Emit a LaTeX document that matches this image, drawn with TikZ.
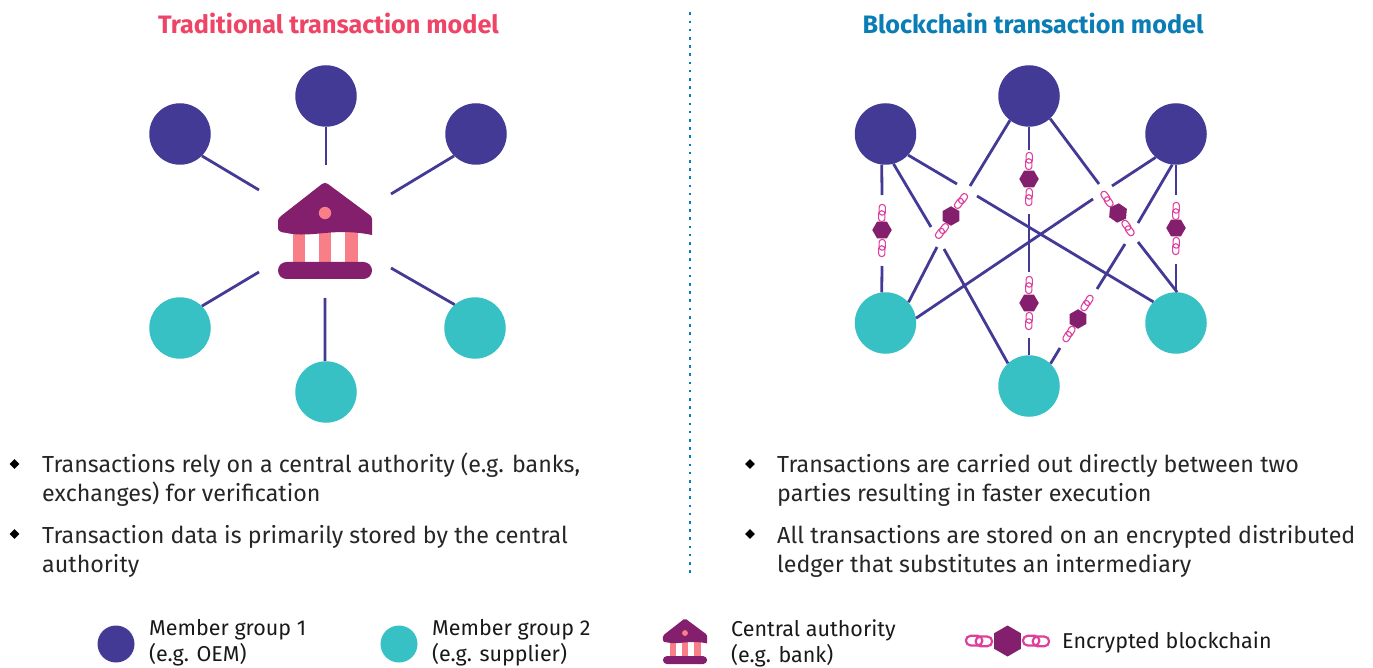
\documentclass[tikz,border=0pt]{standalone}
\usepackage{fontspec}
\setmainfont{Fira Sans}
\usetikzlibrary{shapes.geometric}
\definecolor{memberA}{HTML}{433A96}
\definecolor{memberB}{HTML}{38C1C5}
\definecolor{plum}{HTML}{841F6E}
\definecolor{salmon}{HTML}{F87F87}
\definecolor{chainpink}{HTML}{DE3F9C}
\definecolor{titlered}{HTML}{EE4466}
\definecolor{titleblue}{HTML}{0A7DB5}
\tikzset{
  x=1pt,y=-1pt,
  groupA/.style={circle,fill=memberA,inner sep=0,minimum size=61.5pt},
  groupB/.style={circle,fill=memberB,inner sep=0,minimum size=61.5pt},
  keyA/.style={circle,fill=memberA,inner sep=0,minimum size=37pt},
  keyB/.style={circle,fill=memberB,inner sep=0,minimum size=37pt},
  conn/.style={draw=memberA,line width=2.8pt},
  hexa/.style={regular polygon,regular polygon sides=6,fill=plum,inner sep=0,minimum size=19.5pt},
  linkline/.style={draw=chainpink,line width=1.1pt,rounded corners=3pt},
  titletext/.style={font=\fontsize{25.2}{29}\selectfont\bfseries,anchor=center,inner sep=0},
  body/.style={font=\fontsize{23.25}{29}\selectfont,anchor=west,align=left,inner sep=0,text=black!85},
  legend/.style={font=\fontsize{21.5}{26}\selectfont,anchor=west,align=left,inner sep=0,text=black!90},
  bullet/.style={diamond,fill=black,inner sep=0,minimum size=10pt},
  chainlink/.pic={
    \path[linkline] (-2.9,-8.6) rectangle (3.4,2.2);
    \path[linkline] (-3.4,-2.2) rectangle (2.9,8.6);
  },
  bank/.pic={
    \fill[salmon] (-32,-5) rectangle (-20,32);
    \fill[salmon] (-6,-5) rectangle (6,32);
    \fill[salmon] (20,-5) rectangle (33,32);
    \fill[plum] (-47,-3) .. controls (-47,0) and (-44,1.5) .. (-40,1.7)
      .. controls (-25,5) and (-12,3) .. (0,2)
      .. controls (15,0.5) and (30,0.5) .. (47,4)
      -- (47,-12) .. controls (47,-14) and (46,-15) .. (44,-16.5)
      -- (3,-47) .. controls (1,-48.5) and (-1,-48.5) .. (-3,-47)
      -- (-44,-15) .. controls (-46,-13.5) and (-47,-12) .. (-47,-10) -- cycle;
    \fill[salmon] (0,-18) circle[radius=6.2];
    \fill[plum] (-38.5,31) -- (38.5,31) .. controls (43.2,31) and (47,34.8) .. (47,39.5)
      .. controls (47,44.2) and (43.2,48) .. (38.5,48) -- (-38.5,48)
      .. controls (-43.2,48) and (-47,44.2) .. (-47,39.5)
      .. controls (-47,34.8) and (-43.2,31) .. (-38.5,31) -- cycle;
  }
}
\begin{document}
\begin{tikzpicture}
\useasboundingbox (0,0) rectangle (1373,668);
% titles and divider
\node[titletext,text=titlered] (titleL) at (328.5,23.5) {Traditional transaction model};
\node[titletext,text=titleblue] (titleR) at (1033,23.5) {Blockchain transaction model};
\coordinate (divTop) at (690,12.5);
\coordinate (divBot) at (690,575);
\draw[titleblue,line width=2.4pt,dash pattern=on 2.6pt off 5.6pt] (divTop) -- (divBot);

% traditional model
\node[groupA] (L1) at (180,134) {};
\node[groupA] (L2) at (326,96) {};
\node[groupA] (L3) at (476,134) {};
\node[groupB] (L4) at (180,328) {};
\node[groupB] (L5) at (326,392) {};
\node[groupB] (L6) at (475,328) {};
\pic at (325,231) {bank};
\coordinate (b1) at (259,190);
\coordinate (b2) at (326,165);
\coordinate (b3) at (391,194);
\coordinate (b4) at (259,272);
\coordinate (b5) at (325,298);
\coordinate (b6) at (391,268);
\draw[conn] (L1.-45) -- (b1);
\draw[conn] (L2.-90) -- (b2);
\draw[conn] (L3.-135) -- (b3);
\draw[conn] (L4.45) -- (b4);
\draw[conn] (L5.92) -- (b5);
\draw[conn] (L6.131) -- (b6);

% blockchain model
\node[groupA] (R1) at (885.5,134) {};
\node[groupA] (R2) at (1029,96) {};
\node[groupA] (R3) at (1176,134) {};
\node[groupB] (R4) at (885.5,323) {};
\node[groupB] (R5) at (1029,386) {};
\node[groupB] (R6) at (1176,323) {};
% R1 - R4
\coordinate (a1) at (882,195); \coordinate (a2) at (882,266);
\draw[conn] (R1.-97) -- (a1);
\draw[conn] (a2) -- (R4.97);
% R3 - R6
\coordinate (c1) at (1176,195); \coordinate (c2) at (1176,264);
\draw[conn] (R3.-90) -- (c1);
\draw[conn] (c2) -- (R6.90);
% R2 - R5
\coordinate (d1) at (1029,150); \coordinate (d2) at (1029,214);
\coordinate (d3) at (1029,272); \coordinate (d4) at (1029,338);
\draw[conn] (R2.-90) -- (d1);
\draw[conn] (d2) -- (d3);
\draw[conn] (d4) -- (R5.90);
% R1 - R6
\coordinate (e1) at (957,184); \coordinate (e2) at (977,196);
\draw[conn] (R1.-43) -- (e1);
\draw[conn] (e2) -- (R6.137.6);
% R1 - R5
\coordinate (f1) at (931,227); \coordinate (f2) at (944,249);
\draw[conn] (R1.-75.5) -- (f1);
\draw[conn] (f2) -- (R5.133.7);
% R2 - R4
\coordinate (g1) at (970,186); \coordinate (g2) at (937,247);
\draw[conn] (R2.-128.4) -- (g1);
\draw[conn] (g2) -- (R4.42);
% R2 - R6
\coordinate (h1) at (1099,184); \coordinate (h2) at (1138,242);
\draw[conn] (R2.-47.5) -- (h1);
\draw[conn] (h2) -- (R6.88);
% R3 - R4
\coordinate (i1) at (1112,186); \coordinate (i2) at (1093,199);
\draw[conn] (R3.-131) -- (i1);
\draw[conn] (i2) -- (R4.9.5);
% R3 - R5
\coordinate (j1) at (1138,223); \coordinate (j2) at (1125,244);
\coordinate (j3) at (1097,289); \coordinate (j4) at (1060,348);
\draw[conn] (R3.-97) -- (j1);
\draw[conn] (j2) -- (j3);
\draw[conn] (j4) -- (R5.46);

% chain segments
\node[hexa] (h14) at (882,230) {};
\pic at (882,213) {chainlink}; \pic at (882,248) {chainlink};
\node[hexa] (h36) at (1176,228) {};
\pic at (1176,211) {chainlink}; \pic at (1176,246) {chainlink};
\node[hexa] (h25a) at (1029,179) {};
\pic at (1029,161) {chainlink}; \pic at (1029,197) {chainlink};
\node[hexa] (h25b) at (1029,303) {};
\pic at (1029,285) {chainlink}; \pic at (1029,321) {chainlink};
\node[hexa,rotate=30] (h24) at (951,216) {};
\pic[rotate=-36] at (961,201) {chainlink}; \pic[rotate=-36] at (942,231) {chainlink};
\node[hexa,rotate=-35] (h26) at (1118,213) {};
\pic[rotate=36] at (1107,199) {chainlink}; \pic[rotate=36] at (1128,228) {chainlink};
\node[hexa,rotate=30] (h35) at (1078,319) {};
\pic[rotate=-30] at (1087,303) {chainlink}; \pic[rotate=-30] at (1069,334) {chainlink};

% bullets and body text
\node[bullet] (bu1) at (14.5,464) {};
\node[bullet] (bu2) at (14.5,534) {};
\node[bullet] (bu3) at (750,464) {};
\node[bullet] (bu4) at (750,534) {};
\node[body] (t1) at (42,480) {Transactions rely on a central authority (e.g. banks,\\exchanges) for verification};
\node[body] (t2) at (42,551) {Transaction data is primarily stored by the central\\authority};
\node[body] (t3) at (777,480) {Transactions are carried out directly between two\\parties resulting in faster execution};
\node[body] (t4) at (777,551) {All transactions are stored on an encrypted distributed\\ledger that substitutes an intermediary};

% legend
\node[keyA] (k1) at (116,644) {};
\node[legend] (k1t) at (149,643) {Member group 1\\(e.g. OEM)};
\node[keyB] (k2) at (399,644) {};
\node[legend] (k2t) at (432,643) {Member group 2\\(e.g. supplier)};
\pic[scale=.47] at (685,641.5) {bank};
\node[legend] (k3t) at (731,643) {Central authority\\(e.g. bank)};
\begin{scope}[linkline/.append style={line width=2.2pt,rounded corners=4.6pt}]
\pic[rotate=90,scale=1.52] at (979,641) {chainlink};
\pic[rotate=90,scale=1.52] at (1036,641) {chainlink};
\end{scope}
\node[regular polygon,regular polygon sides=6,fill=plum,inner sep=0,minimum size=31pt,rotate=30] (k4) at (1007.5,641) {};
\node[legend] (k4t) at (1062,642) {Encrypted blockchain};
\end{tikzpicture}
\end{document}
